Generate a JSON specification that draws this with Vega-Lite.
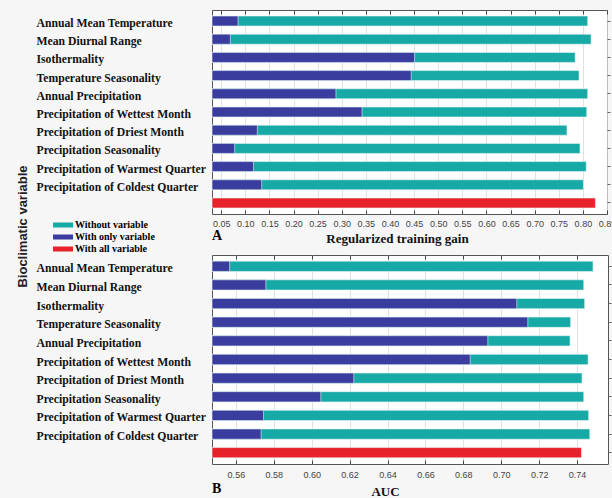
{
  "$schema": "https://vega.github.io/schema/vega-lite/v6.json",
  "background": "#f6f6f6",
  "padding": {"left": 15, "top": 9, "right": 0, "bottom": 0},
  "config": {
    "view": {"fill": "white", "stroke": "#555", "strokeWidth": 1},
    "font": "Liberation Serif"
  },
  "datasets": {
    "a": [
      {"variable": "Annual Mean Temperature", "type": "Without variable", "value": 0.810},
      {"variable": "Mean Diurnal Range", "type": "Without variable", "value": 0.817},
      {"variable": "Isothermality", "type": "Without variable", "value": 0.784},
      {"variable": "Temperature Seasonality", "type": "Without variable", "value": 0.792},
      {"variable": "Annual Precipitation", "type": "Without variable", "value": 0.810},
      {"variable": "Precipitation of Wettest Month", "type": "Without variable", "value": 0.808},
      {"variable": "Precipitation of Driest Month", "type": "Without variable", "value": 0.767},
      {"variable": "Precipitation Seasonality", "type": "Without variable", "value": 0.794},
      {"variable": "Precipitation of Warmest Quarter", "type": "Without variable", "value": 0.807},
      {"variable": "Precipitation of Coldest Quarter", "type": "Without variable", "value": 0.801},
      {"variable": "Annual Mean Temperature", "type": "With only variable", "value": 0.085},
      {"variable": "Mean Diurnal Range", "type": "With only variable", "value": 0.069},
      {"variable": "Isothermality", "type": "With only variable", "value": 0.451},
      {"variable": "Temperature Seasonality", "type": "With only variable", "value": 0.444},
      {"variable": "Annual Precipitation", "type": "With only variable", "value": 0.288},
      {"variable": "Precipitation of Wettest Month", "type": "With only variable", "value": 0.342},
      {"variable": "Precipitation of Driest Month", "type": "With only variable", "value": 0.125},
      {"variable": "Precipitation Seasonality", "type": "With only variable", "value": 0.078},
      {"variable": "Precipitation of Warmest Quarter", "type": "With only variable", "value": 0.117},
      {"variable": "Precipitation of Coldest Quarter", "type": "With only variable", "value": 0.134},
      {"variable": "", "type": "With all variable", "value": 0.826}
    ],
    "b": [
      {"variable": "Annual Mean Temperature", "type": "Without variable", "value": 0.7484},
      {"variable": "Mean Diurnal Range", "type": "Without variable", "value": 0.7435},
      {"variable": "Isothermality", "type": "Without variable", "value": 0.7440},
      {"variable": "Temperature Seasonality", "type": "Without variable", "value": 0.7366},
      {"variable": "Annual Precipitation", "type": "Without variable", "value": 0.7363},
      {"variable": "Precipitation of Wettest Month", "type": "Without variable", "value": 0.7458},
      {"variable": "Precipitation of Driest Month", "type": "Without variable", "value": 0.7426},
      {"variable": "Precipitation Seasonality", "type": "Without variable", "value": 0.7435},
      {"variable": "Precipitation of Warmest Quarter", "type": "Without variable", "value": 0.7461},
      {"variable": "Precipitation of Coldest Quarter", "type": "Without variable", "value": 0.7467},
      {"variable": "Annual Mean Temperature", "type": "With only variable", "value": 0.5567},
      {"variable": "Mean Diurnal Range", "type": "With only variable", "value": 0.5758},
      {"variable": "Isothermality", "type": "With only variable", "value": 0.7082},
      {"variable": "Temperature Seasonality", "type": "With only variable", "value": 0.7140},
      {"variable": "Annual Precipitation", "type": "With only variable", "value": 0.6929},
      {"variable": "Precipitation of Wettest Month", "type": "With only variable", "value": 0.6836},
      {"variable": "Precipitation of Driest Month", "type": "With only variable", "value": 0.6222},
      {"variable": "Precipitation Seasonality", "type": "With only variable", "value": 0.6048},
      {"variable": "Precipitation of Warmest Quarter", "type": "With only variable", "value": 0.5746},
      {"variable": "Precipitation of Coldest Quarter", "type": "With only variable", "value": 0.5733},
      {"variable": "", "type": "With all variable", "value": 0.7423}
    ]
  },
  "spacing": 41,
  "bounds": "flush",
  "resolve": {"scale": {"x": "independent", "y": "independent"}},
  "vconcat": [
    {
      "width": 395,
      "height": 204,
      "data": {"name": "a"},
      "title": {"text": "A", "orient": "bottom", "anchor": "start", "frame": "group", "font": "Liberation Serif", "fontSize": 14, "fontWeight": "bold", "color": "#000", "offset": -16},
      "resolve": {"axis": {"x": "independent", "y": "independent"}},
      "layer": [
        {
          "mark": {"type": "bar", "clip": true, "stroke": "#eaf6f6", "strokeWidth": 0.6},
          "encoding": {
            "y": {
              "field": "variable", "type": "nominal",
              "sort": ["Annual Mean Temperature", "Mean Diurnal Range", "Isothermality", "Temperature Seasonality", "Annual Precipitation", "Precipitation of Wettest Month", "Precipitation of Driest Month", "Precipitation Seasonality", "Precipitation of Warmest Quarter", "Precipitation of Coldest Quarter", ""],
              "scale": {"paddingInner": 0.45, "paddingOuter": 0.33},
              "axis": {
                "title": null,
                "labelAlign": "left", "labelPadding": 176, "ticks": false, "tickSize": 0, "domain": false,
                "labelFont": "Liberation Serif", "labelFontSize": 11.7, "labelFontWeight": "bold", "labelColor": "#111", "labelLimit": 220, "labelOffset": 2
              }
            },
            "x": {
              "field": "value", "type": "quantitative", "stack": null,
              "scale": {"domain": [0.031, 0.85], "zero": false, "nice": false},
              "axis": {
                "values": [0.05, 0.1, 0.15, 0.2, 0.25, 0.3, 0.35, 0.4, 0.45, 0.5, 0.55, 0.6, 0.65, 0.7, 0.75, 0.8, 0.85],
                "format": ".2f", "labelFont": "Liberation Sans", "labelFontSize": 9, "labelColor": "#444", "labelOverlap": false, "labelFlush": false,
                "tickSize": -4, "tickColor": "#444", "labelPadding": 9, "domain": false,
                "grid": true, "gridColor": "#d9d9d9", "gridWidth": 0.8,
                "title": "Regularized training gain", "titleFont": "Liberation Serif", "titleFontSize": 13, "titleFontWeight": "bold", "titleColor": "#111",
                "titleX": 185, "titlePadding": 4
              }
            },
            "color": {
              "field": "type", "type": "nominal",
              "scale": {"domain": ["Without variable", "With only variable", "With all variable"], "range": ["#17a9a5", "#3a3d9e", "#e8222b"]},
              "legend": {
                "orient": "none", "legendX": -154, "legendY": 210, "title": null,
                "symbolType": "M-2,-0.5H2V0.5H-2Z", "symbolSize": 100, "symbolStrokeWidth": 0,
                "labelFont": "Liberation Serif", "labelFontSize": 10, "labelFontWeight": "bold", "labelColor": "#000",
                "rowPadding": 2, "labelOffset": 7
              }
            }
          }
        },
        {
          "mark": {"type": "point", "opacity": 0},
          "encoding": {
            "y": {"field": "variable", "type": "nominal",
              "sort": ["Annual Mean Temperature", "Mean Diurnal Range", "Isothermality", "Temperature Seasonality", "Annual Precipitation", "Precipitation of Wettest Month", "Precipitation of Driest Month", "Precipitation Seasonality", "Precipitation of Warmest Quarter", "Precipitation of Coldest Quarter", ""],
              "scale": {"paddingInner": 0.45, "paddingOuter": 0.33},
              "axis": {"orient": "right", "labels": false, "domain": false, "ticks": true, "tickSize": 3, "tickColor": "#666", "title": null}},
            "x": {"field": "value", "type": "quantitative",
              "scale": {"domain": [0.031, 0.85], "zero": false, "nice": false},
              "axis": {"orient": "top", "values": [0.05, 0.1, 0.15, 0.2, 0.25, 0.3, 0.35, 0.4, 0.45, 0.5, 0.55, 0.6, 0.65, 0.7, 0.75, 0.8, 0.85], "labels": false, "domain": false, "tickSize": -4, "tickColor": "#444", "grid": false, "title": null}}
          }
        }
      ]
    },
    {
      "width": 396,
      "height": 209,
      "data": {"name": "b"},
      "title": {"text": "B", "orient": "bottom", "anchor": "start", "frame": "group", "font": "Liberation Serif", "fontSize": 14, "fontWeight": "bold", "color": "#000", "offset": -16},
      "resolve": {"axis": {"x": "independent", "y": "independent"}},
      "layer": [
        {
          "mark": {"type": "bar", "clip": true, "stroke": "#eaf6f6", "strokeWidth": 0.6},
          "encoding": {
            "y": {
              "field": "variable", "type": "nominal",
              "sort": ["Annual Mean Temperature", "Mean Diurnal Range", "Isothermality", "Temperature Seasonality", "Annual Precipitation", "Precipitation of Wettest Month", "Precipitation of Driest Month", "Precipitation Seasonality", "Precipitation of Warmest Quarter", "Precipitation of Coldest Quarter", ""],
              "scale": {"paddingInner": 0.45, "paddingOuter": 0.33},
              "axis": {
                "title": "Bioclimatic variable", "titleFont": "Liberation Sans", "titleFontSize": 13, "titleFontWeight": "bold", "titleColor": "#222",
                "titleX": -190, "titleY": -29, "titleAngle": -90, "titleAlign": "center", "titleBaseline": "middle",
                "labelAlign": "left", "labelPadding": 176, "ticks": false, "tickSize": 0, "domain": false,
                "labelFont": "Liberation Serif", "labelFontSize": 11.7, "labelFontWeight": "bold", "labelColor": "#111", "labelLimit": 220, "labelOffset": 2
              }
            },
            "x": {
              "field": "value", "type": "quantitative", "stack": null,
              "scale": {"domain": [0.5474, 0.7563], "zero": false, "nice": false},
              "axis": {
                "values": [0.56, 0.58, 0.6, 0.62, 0.64, 0.66, 0.68, 0.7, 0.72, 0.74],
                "format": ".2f", "labelFont": "Liberation Sans", "labelFontSize": 9, "labelColor": "#444", "labelOverlap": false, "labelFlush": false,
                "tickSize": -4, "tickColor": "#444", "labelPadding": 10, "domain": false,
                "grid": true, "gridColor": "#d9d9d9", "gridWidth": 0.8,
                "title": "AUC", "titleFont": "Liberation Serif", "titleFontSize": 13, "titleFontWeight": "bold", "titleColor": "#111",
                "titleX": 173, "titlePadding": 6
              }
            },
            "color": {
              "field": "type", "type": "nominal",
              "scale": {"domain": ["Without variable", "With only variable", "With all variable"], "range": ["#17a9a5", "#3a3d9e", "#e8222b"]},
              "legend": null
            }
          }
        },
        {
          "mark": {"type": "point", "opacity": 0},
          "encoding": {
            "y": {"field": "variable", "type": "nominal",
              "sort": ["Annual Mean Temperature", "Mean Diurnal Range", "Isothermality", "Temperature Seasonality", "Annual Precipitation", "Precipitation of Wettest Month", "Precipitation of Driest Month", "Precipitation Seasonality", "Precipitation of Warmest Quarter", "Precipitation of Coldest Quarter", ""],
              "scale": {"paddingInner": 0.45, "paddingOuter": 0.33},
              "axis": {"orient": "right", "labels": false, "domain": false, "ticks": true, "tickSize": 3, "tickColor": "#666", "title": null}},
            "x": {"field": "value", "type": "quantitative",
              "scale": {"domain": [0.5474, 0.7563], "zero": false, "nice": false},
              "axis": {"orient": "top", "values": [0.56, 0.58, 0.6, 0.62, 0.64, 0.66, 0.68, 0.7, 0.72, 0.74], "labels": false, "domain": false, "tickSize": -4, "tickColor": "#444", "grid": false, "title": null}}
          }
        }
      ]
    }
  ]
}
